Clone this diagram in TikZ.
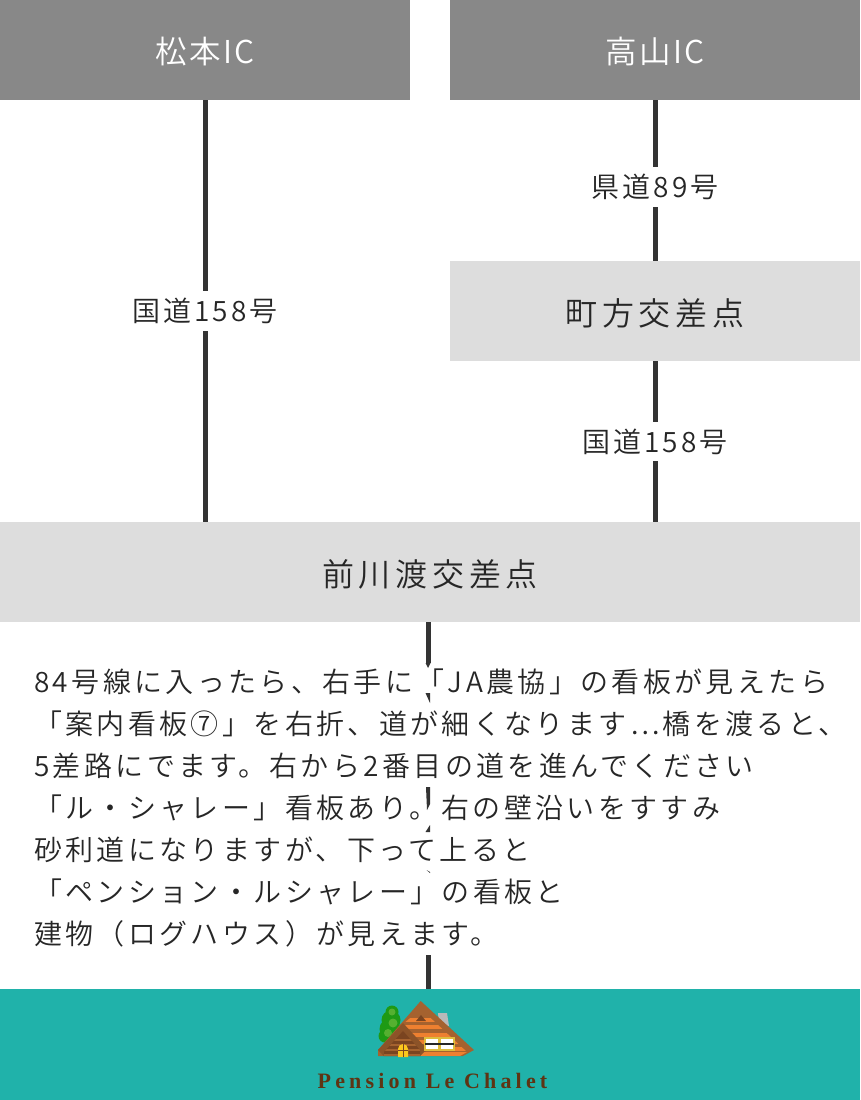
\documentclass[tikz,border=0pt]{standalone}
\usepackage{fontspec}
\setmainfont[LetterSpace=12]{Noto Sans CJK JP DemiLight}
\newfontfamily\logofont[LetterSpace=19]{Liberation Serif}
\usetikzlibrary{positioning}
\definecolor{icgray}{HTML}{888888}
\definecolor{crossgray}{HTML}{DDDDDD}
\definecolor{roadline}{HTML}{333333}
\definecolor{footteal}{HTML}{20B2AA}
\definecolor{logobrown}{HTML}{5E3413}
\definecolor{logowood}{HTML}{A5622F}
\definecolor{logodark}{HTML}{7A4420}
\definecolor{logoorange}{HTML}{EE8030}
\definecolor{logotree}{HTML}{1E9A14}
\definecolor{logoleaf}{HTML}{55B030}
\tikzset{
  ic/.style={rectangle, minimum height=100pt, inner sep=0pt, text height=26pt, text depth=0pt, text=white, fill=icgray, font=\fontsize{31.5}{36}\selectfont\addfontfeature{LetterSpace=8}},
  cross/.style={rectangle, minimum height=100pt, inner sep=0pt, text height=28pt, text depth=0pt, text=black!85, fill=crossgray, font=\fontsize{32}{36}\selectfont\addfontfeature{LetterSpace=15}},
  road/.style={fill=white, inner xsep=3pt, inner ysep=7pt, text=black!85, font=\fontsize{28}{32}\selectfont\addfontfeature{LetterSpace=11}},
  guide/.style={anchor=west, inner sep=0pt, text=black!85, font=\fontsize{28}{32}\selectfont},
  conn/.style={draw=roadline, line width=5pt}
}
\begin{document}
\begin{tikzpicture}[x=1pt,y=-1pt]
	\useasboundingbox (0,0) rectangle (860,1100);
	\node[ic, minimum width=410pt] (matsumoto) at (205,50) {松本IC};
	\node[ic, minimum width=410pt] (takayama) at (655,50) {高山IC};
	\node[cross, minimum width=410pt] (machikata) at (655,311) {町方交差点};
	\node[cross, minimum width=860pt] (maekawa) at (430,572) {前川渡交差点};
	\node[rectangle, fill=footteal, minimum width=860pt, minimum height=111pt, inner sep=0pt] (footer) at (430,1044.5) {};
	\coordinate (info top) at (428,663);
	\coordinate (info bot) at (428,955);
	%
	\draw[conn] (matsumoto.south) -- (maekawa.north -| matsumoto.south) node[road, pos=0.5] (kokudo a) {国道158号};
	\draw[conn] (takayama) -- (machikata) node[road, pos=0.54] (kendo) {県道89号};
	\draw[conn] (machikata) -- (maekawa.north -| machikata.south) node[road, midway] (kokudo b) {国道158号};
	\draw[conn] (maekawa.south -| info top) -- (info top);
	\draw[conn] (info bot) -- (footer.north -| info bot);
	% left over pieces of the line between the text rows
	\fill[roadline] (425.5,663) -- (430.5,663) -- (428,668) -- cycle;
	\fill[roadline] (425.5,693) -- (430,703) -- (430,693) -- cycle;
	\fill[roadline] (426,787) -- (430,787) -- (430,804) -- (427,810) -- cycle;
	\fill[roadline] (430,825) -- (430,832) -- (425.5,832) -- cycle;
	\fill[roadline] (426.5,870) -- (430,872) -- (430,873) -- cycle;
	%
	\node[guide] (row a) at (34,682) {84号線に入ったら、右手に「JA農協」の看板が見えたら};
	\node[guide] (row b) at (34,724) {「案内看板⑦」を右折、道が細くなります⋯橋を渡ると、};
	\node[guide] (row c) at (34,766) {5差路にでます。右から2番目の道を進んでください};
	\node[guide] (row d) at (34,808) {「ル・シャレー」看板あり。右の壁沿いをすすみ};
	\node[guide] (row e) at (34,850) {砂利道になりますが、下って上ると};
	\node[guide] (row f) at (34,892) {「ペンション・ルシャレー」の看板と};
	\node[guide] (row g) at (34,934) {建物（ログハウス）が見えます。};
	% logo
	\fill[logotree] (392,1012) circle (6.5) (391,1020) circle (9.5) (390,1029) circle (10.5) (385,1036) circle (6.5);
	\fill[logoleaf] (392,1012) circle (3.5) (393,1023) circle (4.5) (388,1033) circle (4);
	\fill[gray!55] (438,1013) -- (447,1013) -- (449,1026) -- (439,1024) -- cycle;
	\fill[logowood] (420.7,1001) -- (474,1050) -- (463,1056) -- (378,1056) -- (378,1050) -- cycle;
	\begin{scope}
		\clip (421,1009) -- (467,1052) -- (460,1056) -- (408,1056) -- (403,1024) -- cycle;
		\foreach \yy in {1018,1025,1033,1040,1047,1052}
			\fill[logoorange] (395,\yy) rectangle (475,\yy+4);
	\end{scope}
	\fill[logodark] (421,1015) -- (426,1021) -- (416,1021) -- cycle;
	\fill[logowood!85!black] (403,1023) -- (428,1050) -- (424,1052) -- (420,1056) -- (384,1056) -- (378,1050) -- cycle;
	\begin{scope}
		\clip (403,1031) -- (420,1050) -- (420,1056) -- (384,1056) -- (384,1052) -- cycle;
		\fill[logodark] (380,1028) rectangle (425,1056);
		\foreach \yy in {1039,1044,1049,1054}
			\fill[logowood] (380,\yy) rectangle (425,\yy+2);
	\end{scope}
	\fill[yellow!55!orange!90] (398,1057) -- (398,1049) arc (180:360:5) -- (408,1057) -- cycle;
	\draw[logodark, line width=0.7pt] (403,1044) -- (403,1057) (398,1050) -- (408,1050);
	\fill[yellow!45!brown] (424,1036.5) rectangle (454.5,1051);
	\fill[white] (426,1039) rectangle (438,1049);
	\fill[white] (441,1039) rectangle (452.5,1049);
	\draw[black!85, line width=1.3pt] (425,1044) -- (454,1044);
	\node[inner sep=0pt, text=logobrown, font=\logofont\bfseries\fontsize{22}{24}\selectfont] (logotext) at (432.5,1081) {Pension Le Chalet};
\end{tikzpicture}
\end{document}
